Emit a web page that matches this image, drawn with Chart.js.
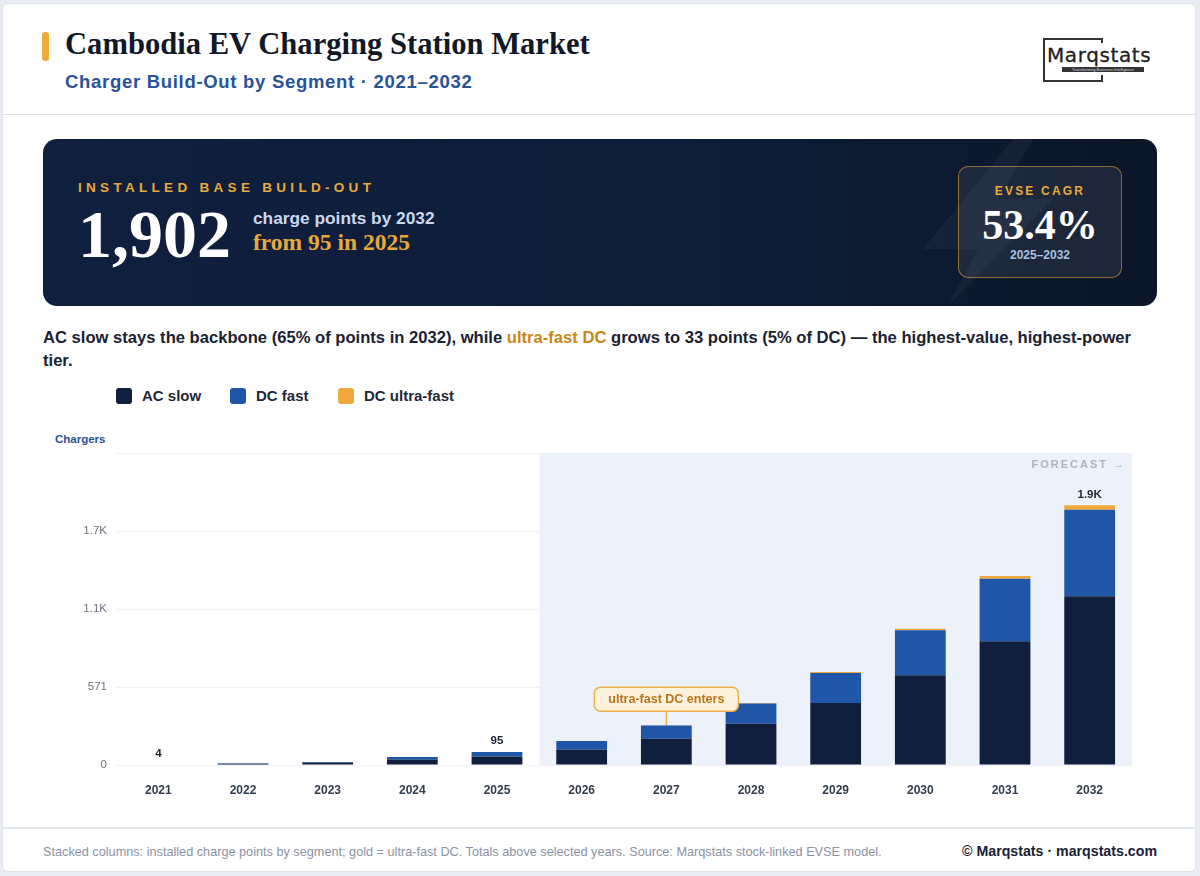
<!DOCTYPE html>
<html>
<head>
<meta charset="utf-8">
<script src="https://cdn.jsdelivr.net/npm/chart.js@4.4.1/dist/chart.umd.min.js"></script>
<style>
  html,body{margin:0;padding:0;}
  body{width:1200px;height:876px;background:#e9edf3;font-family:"Liberation Sans",Arial,sans-serif;position:relative;overflow:hidden;}
  .card{position:absolute;left:2px;top:3px;width:1194px;height:869px;background:#fff;border:1px solid #dfe4eb;border-radius:6px;box-sizing:border-box;}
  .hdr-line{position:absolute;left:3px;right:3px;top:114px;height:1px;background:#dde2ea;}
  .ftr-line{position:absolute;left:3px;right:3px;top:827px;height:2px;background:#e3e7ee;}
  .accent{position:absolute;left:42px;top:32px;width:7px;height:29px;background:#f0a93a;border-radius:3px;}
  .title{position:absolute;left:65px;top:27px;font-family:"Liberation Serif","Times New Roman",serif;font-weight:bold;font-size:30.6px;color:#111827;white-space:nowrap;}
  .subtitle{position:absolute;left:65px;top:71px;font-weight:bold;font-size:18.5px;letter-spacing:0.7px;color:#275398;white-space:nowrap;}
  .logo{position:absolute;left:1043px;top:38px;width:116px;height:45px;}
  .logo .box{position:absolute;left:0;top:0;width:60px;height:44px;border:2px solid #333;border-right:none;box-sizing:border-box;}
  .logo .boxr1{position:absolute;left:58px;top:0;width:2px;height:6px;background:#333;}
  .logo .boxr2{position:absolute;left:58px;top:37px;width:2px;height:7px;background:#333;}
  .logo .name{position:absolute;left:4px;top:5px;font-family:"DejaVu Sans",sans-serif;font-size:20px;letter-spacing:0.6px;color:#222;background:#fff;padding-right:2px;-webkit-text-stroke:0.3px #222;}
  .logo .tag{position:absolute;left:19px;top:29px;width:82px;height:5px;background:#333;color:#ddd;font-size:4px;line-height:5px;text-align:center;white-space:nowrap;overflow:hidden;}
  .kpi{position:absolute;left:43px;top:139px;width:1114px;height:167px;border-radius:14px;background:linear-gradient(90deg,#0f1f3e 0%,#0e1d38 60%,#0b1628 100%);overflow:hidden;}
  .kpi .lbl{position:absolute;left:35px;top:41px;font-weight:bold;font-size:13.5px;letter-spacing:4.3px;color:#e9a83a;white-space:nowrap;}
  .kpi .big{position:absolute;left:35px;top:56px;font-family:"Liberation Serif",serif;font-weight:bold;font-size:68px;color:#fff;white-space:nowrap;}
  .kpi .l1{position:absolute;left:210px;top:69px;font-weight:bold;font-size:17.3px;color:#c9d8ef;white-space:nowrap;}
  .kpi .l2{position:absolute;left:210px;top:90px;font-family:"Liberation Serif",serif;font-weight:bold;font-size:23.5px;color:#e9a83a;white-space:nowrap;}
  .kpi svg{position:absolute;left:860px;top:0;}
  .kpi .cagr{position:absolute;left:915px;top:27px;width:164px;height:112px;box-sizing:border-box;border:1.5px solid rgba(233,168,58,0.55);border-radius:10px;background:rgba(255,255,255,0.07);text-align:center;}
  .cagr .c1{position:absolute;left:0;right:0;top:17px;font-weight:bold;font-size:12px;letter-spacing:2.2px;color:#e9a83a;}
  .cagr .c2{position:absolute;left:0;right:0;top:34px;font-family:"Liberation Serif",serif;font-weight:bold;font-size:42px;color:#fff;}
  .cagr .c3{position:absolute;left:0;right:0;top:81px;font-weight:bold;font-size:12px;color:#a9c0e0;}
  .lead{position:absolute;left:43px;top:326px;width:1116px;font-weight:bold;font-size:16.6px;line-height:23px;color:#1a2233;}
  .lead .hl{color:#c8871a;}
  .legend{position:absolute;left:116px;top:387px;height:20px;font-weight:bold;font-size:15px;color:#1f2937;}
  .legend .it{position:absolute;top:0;white-space:nowrap;}
  .legend .sw{display:inline-block;width:16px;height:16px;border-radius:3px;vertical-align:-3px;margin-right:10px;}
  .ytitle{position:absolute;left:55px;top:433px;font-weight:bold;font-size:11.5px;color:#275398;}
  .chartbox{position:absolute;left:43px;top:425px;width:1114px;height:380px;}
  .foot{position:absolute;left:43px;top:845px;font-size:12.7px;color:#8a93a3;white-space:nowrap;}
  .copy{position:absolute;right:43px;top:843px;font-weight:bold;font-size:14.2px;color:#1a2233;white-space:nowrap;}
</style>
</head>
<body>
<div class="card"></div>
<div class="hdr-line"></div>
<div class="ftr-line"></div>
<div class="accent"></div>
<div class="title">Cambodia EV Charging Station Market</div>
<div class="subtitle">Charger Build-Out by Segment · 2021–2032</div>
<div class="logo">
  <div class="box"></div><div class="boxr1"></div><div class="boxr2"></div>
  <div class="name">Marqstats</div>
  <div class="tag">Transforming Business Intelligence</div>
</div>
<div class="kpi">
  <svg width="160" height="167" viewBox="0 0 160 167">
    <polygon points="110,0 20,110 75,110 45,167 150,60 95,60 130,0" fill="rgba(255,255,255,0.045)"/>
  </svg>
  <div class="lbl">INSTALLED BASE BUILD-OUT</div>
  <div class="big">1,902</div>
  <div class="l1">charge points by 2032</div>
  <div class="l2">from 95 in 2025</div>
  <div class="cagr">
    <div class="c1">EVSE CAGR</div>
    <div class="c2">53.4%</div>
    <div class="c3">2025–2032</div>
  </div>
</div>
<div class="lead">AC slow stays the backbone (65% of points in 2032), while <span class="hl">ultra-fast DC</span> grows to 33 points (5% of DC) — the highest-value, highest-power tier.</div>
<div class="legend">
  <div class="it" style="left:0"><span class="sw" style="background:#0f1f3d"></span>AC slow</div>
  <div class="it" style="left:114px"><span class="sw" style="background:#1f56a8"></span>DC fast</div>
  <div class="it" style="left:222px"><span class="sw" style="background:#f0a93a"></span>DC ultra-fast</div>
</div>
<div class="ytitle">Chargers</div>
<div class="chartbox"><canvas id="c"></canvas></div>
<div class="foot">Stacked columns: installed charge points by segment; gold = ultra-fast DC. Totals above selected years. Source: Marqstats stock-linked EVSE model.</div>
<div class="copy">© Marqstats · marqstats.com</div>

<script>
const years = ['2021','2022','2023','2024','2025','2026','2027','2028','2029','2030','2031','2032'];
const acSlow = [3, 9, 16, 39, 62, 112, 193, 302, 454, 657, 905, 1236];
const dcFast = [1, 3, 6, 19, 33, 64, 96, 148, 220, 330, 459, 633];
const dcUltra = [0, 0, 0, 0, 0, 0, 2, 4, 7, 11, 20, 33];
const yTicks = [0, 571, 1142, 1713, 2284];
const yTickLabels = ['0', '571', '1.1K', '1.7K', ''];
const totalLabels = {0: '4', 4: '95', 11: '1.9K'};
const forecastStart = 5;
const annotationIndex = 6;
const annotationText = 'ultra-fast DC enters';

const overlay = {
  id: 'overlay',
  beforeDatasetsDraw(chart) {
    const {ctx, chartArea, scales: {x}} = chart;
    const x0 = (x.getPixelForValue(forecastStart - 1) + x.getPixelForValue(forecastStart)) / 2;
    ctx.save();
    ctx.fillStyle = '#edf2fa';
    ctx.fillRect(x0, chartArea.top, chartArea.right - x0, chartArea.bottom - chartArea.top);
    ctx.font = 'bold 11px "Liberation Sans", Arial, sans-serif';
    ctx.fillStyle = '#aab5c5';
    ctx.textAlign = 'right';
    ctx.textBaseline = 'middle';
    try { ctx.letterSpacing = '2px'; } catch(e) {}
    ctx.fillText('FORECAST →', chartArea.right - 6, chartArea.top + 12);
    ctx.restore();
  },
  afterDatasetsDraw(chart) {
    const {ctx, scales: {x, y}} = chart;
    const meta = chart.getDatasetMeta(chart.data.datasets.length - 1);
    ctx.save();
    ctx.font = 'bold 11.5px "Liberation Sans", Arial, sans-serif';
    ctx.fillStyle = '#1a2233';
    ctx.textAlign = 'center';
    ctx.textBaseline = 'bottom';
    Object.keys(totalLabels).forEach(k => {
      const el = meta.data[+k];
      ctx.fillText(totalLabels[k], el.x, el.y - 5);
    });
    const i = annotationIndex;
    const tot = acSlow[i] + dcFast[i] + dcUltra[i];
    const bx = x.getPixelForValue(i);
    const by = y.getPixelForValue(tot);
    ctx.font = 'bold 12.5px "Liberation Sans", Arial, sans-serif';
    const w = ctx.measureText(annotationText).width + 28;
    const h = 24;
    const top = by - 14 - h;
    ctx.strokeStyle = '#eeb04a';
    ctx.lineWidth = 1.5;
    ctx.beginPath();
    ctx.moveTo(bx, top + h);
    ctx.lineTo(bx, by);
    ctx.stroke();
    ctx.fillStyle = '#fdf1dc';
    ctx.beginPath();
    ctx.roundRect(bx - w / 2, top, w, h, 6);
    ctx.fill();
    ctx.stroke();
    ctx.fillStyle = '#b8761a';
    ctx.textBaseline = 'middle';
    ctx.fillText(annotationText, bx, top + h / 2 + 0.5);
    ctx.restore();
  }
};

new Chart(document.getElementById('c'), {
  type: 'bar',
  data: {
    labels: years,
    datasets: [
      {label: 'AC slow', data: acSlow, backgroundColor: '#0f1f3d', borderWidth: 0, barPercentage: 0.6, categoryPercentage: 1},
      {label: 'DC fast', data: dcFast, backgroundColor: '#1f56a8', borderWidth: 0, barPercentage: 0.6, categoryPercentage: 1},
      {label: 'DC ultra-fast', data: dcUltra, backgroundColor: '#f0a93a', borderWidth: 0, barPercentage: 0.6, categoryPercentage: 1}
    ]
  },
  options: {
    responsive: true,
    maintainAspectRatio: false,
    animation: false,
    layout: {padding: {top: 28, right: 25, left: 0, bottom: 0}},
    plugins: {legend: {display: false}, tooltip: {enabled: false}},
    scales: {
      x: {
        stacked: true,
        grid: {display: false, drawTicks: false},
        border: {display: false},
        ticks: {color: '#333d4d', font: {family: '"Liberation Sans", Arial, sans-serif', size: 12, weight: 'bold'}, padding: 18},
        afterFit(s) { s.height = 40; }
      },
      y: {
        stacked: true,
        min: yTicks[0],
        max: yTicks[yTicks.length - 1],
        afterBuildTicks(s) { s.ticks = yTicks.map(v => ({value: v})); },
        grid: {color: '#eef1f5', drawTicks: false, lineWidth: 1},
        border: {display: false},
        ticks: {
          color: '#6b7280',
          font: {family: '"Liberation Sans", Arial, sans-serif', size: 11.5},
          padding: 9,
          callback(v) { const i = yTicks.indexOf(v); return i >= 0 ? yTickLabels[i] : ''; }
        },
        afterFit(s) { s.width = 73; }
      }
    }
  },
  plugins: [overlay]
});
</script>
</body>
</html>
